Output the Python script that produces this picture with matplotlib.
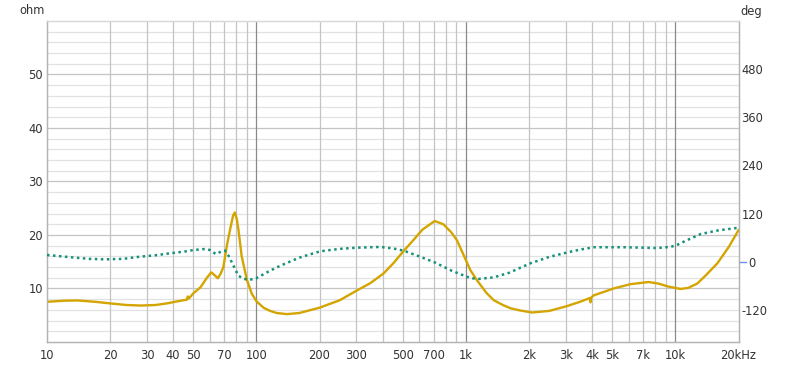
import numpy as np
import matplotlib; matplotlib.use("Agg")
import matplotlib.pyplot as plt
from matplotlib.transforms import ScaledTranslation, blended_transform_factory

plt.rcParams.update({"font.family": "DejaVu Sans", "font.size": 8.3})

# impedance magnitude (ohm) vs frequency (Hz)
f_z = [10, 12, 14, 17, 20, 24, 28, 33, 38, 42, 46.5, 47, 47.5, 50, 54, 58, 60.8, 63,
       65.4, 67.5, 69.5, 72.2, 75, 77.3, 78.8, 80.5, 82, 85, 90, 95, 100, 108, 116, 125,
       140, 160, 200, 250, 304, 350, 404, 450, 504, 560, 620, 709, 780, 850, 906, 960,
       1050, 1130, 1250, 1357, 1500, 1630, 1800, 2070, 2500, 3040, 3500, 3900, 3930,
       3960, 4070, 5080, 6100, 7460, 8300, 9140, 10570, 11500, 12700, 14000, 15850,
       18000, 20000]
z_ohm = [7.5, 7.7, 7.75, 7.5, 7.2, 6.9, 6.8, 6.9, 7.25, 7.6, 7.9, 8.5, 8.1, 9.1, 10.2,
         12.0, 13.0, 12.5, 11.9, 12.8, 14.0, 18.0, 21.2, 23.6, 24.2, 23.0, 21.0, 16.0,
         11.6, 9.0, 7.6, 6.4, 5.8, 5.4, 5.2, 5.4, 6.4, 7.8, 9.7, 11.0, 12.8, 14.7, 17.0,
         19.0, 21.0, 22.6, 22.0, 20.5, 19.0, 16.8, 13.4, 11.5, 9.2, 7.8, 6.9, 6.3, 5.9,
         5.5, 5.8, 6.7, 7.5, 8.2, 7.4, 8.3, 8.7, 10.0, 10.8, 11.2, 10.9, 10.4, 9.9, 10.1,
         10.9, 12.5, 14.7, 17.8, 20.9]

# phase (deg) vs frequency (Hz)
f_p = [10, 13, 16, 19, 23, 27.8, 33, 38.7, 45, 50, 56.9, 60, 64, 67, 70.9, 73.5, 76.3,
       82, 87, 93, 100, 116, 130, 160, 201, 250, 304, 390, 450, 504, 600, 709, 850, 1050,
       1150, 1357, 1600, 2030, 2500, 3040, 3500, 4070, 5650, 8200, 9500, 10200, 11500,
       13200, 16000, 19600, 20000]
p_deg = [16.7, 11, 7, 5.8, 7, 12.5, 16, 21, 25, 29, 31.7, 29, 19, 24, 27.5, 15, -2,
         -35, -43, -45, -41, -22.5, -10, 10, 25.8, 32, 35, 36.7, 33, 27.5, 13, -1.7, -22,
         -41, -43, -39, -28, -4, 12, 23, 30, 36, 36, 34, 37, 42, 55, 69, 78, 84, 84]

x_ticks = [10, 20, 30, 40, 50, 70, 100, 200, 300, 500, 700, 1000, 2000, 3000, 4000,
           5000, 7000, 10000, 20000]
x_labels = ["10", "20", "30", "40", "50", "70", "100", "200", "300", "500", "700", "1k",
            "2k", "3k", "4k", "5k", "7k", "10k", "20kHz"]
ohm_ticks = [10, 20, 30, 40, 50]
deg_ticks = [-120, 0, 120, 240, 360, 480]

fig = plt.figure(figsize=(8.0, 3.69), dpi=100)
ax = fig.add_axes([0.05875, 0.0734, 0.8644, 0.8697])
ax.set_xscale("log")
ax.set_xlim(10, 20000)
ax.set_ylim(0, 60)

# grid
for y in np.arange(2, 60, 2):
    ax.axhline(y, color="#c4c4c4" if y % 10 == 0 else "#e2e2e2", lw=0.9, zorder=0)
for dec in [10, 100, 1000, 10000]:
    for m in range(1, 10):
        f = dec * m
        if f <= 10 or f >= 20000:
            continue
        ax.axvline(f, color="#8a8a8a" if m == 1 else "#c4c4c4", lw=0.9, zorder=0)

ax.plot(f_z, z_ohm, color="#d4a400", lw=1.7, zorder=3, solid_joinstyle="round")

ax2 = ax.twinx()
ax2.set_ylim(-200, 600)
ax2.plot(f_p, p_deg, color="#17927a", lw=1.8, ls=(0, (1, 1.4)), dash_capstyle="butt",
         zorder=3)

ax.set_xticks(x_ticks)
ax.set_xticklabels(x_labels)
ax.xaxis.set_minor_locator(plt.NullLocator())
ax.set_yticks(ohm_ticks)
ax.tick_params(axis="x", length=0, pad=5, colors="#333333")
ax.tick_params(axis="y", length=0, pad=3, colors="#333333")
ax2.set_yticks(deg_ticks)
ax2.set_yticklabels([str(t) for t in deg_ticks])
ax2.tick_params(axis="y", length=0, pad=2, colors="#333333")
for lbl in ax2.get_yticklabels():
    if lbl.get_text() == "0":
        lbl.set_transform(lbl.get_transform() + ScaledTranslation(7 / 100, 0, fig.dpi_scale_trans))

# small blue marker at phase zero
tr = blended_transform_factory(ax2.transAxes, ax2.transData)
ax2.plot([1.0, 1.0 + 7 / 691], [0, 0], color="#6f8ff0", lw=1.0, transform=tr, clip_on=False)

for a in (ax, ax2):
    for s in a.spines.values():
        s.set_color("#b4b4b4")
        s.set_linewidth(0.9)
    a.spines["top"].set_color("#d8d8d8")

fig.text(31.7 / 800, 1 - 11 / 369, "ohm", ha="center", va="center", color="#333333")
fig.text(751 / 800, 1 - 11 / 369, "deg", ha="center", va="center", color="#333333")

fig.savefig("out.png", dpi=100)
